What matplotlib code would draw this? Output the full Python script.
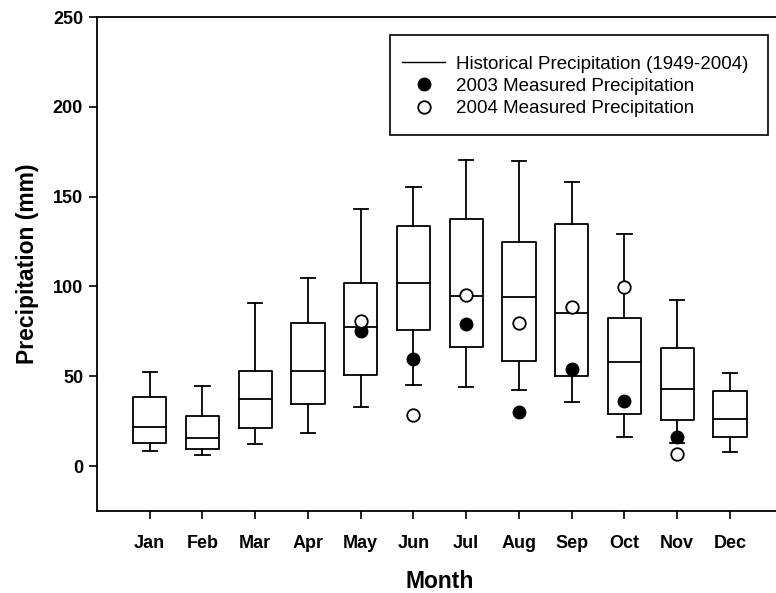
import matplotlib
matplotlib.use("Agg")
import matplotlib.pyplot as plt
from matplotlib.lines import Line2D
from matplotlib.patches import Rectangle

plt.rcParams['font.family'] = ['Liberation Sans', 'DejaVu Sans']

months = ['Jan', 'Feb', 'Mar', 'Apr', 'May', 'Jun', 'Jul', 'Aug', 'Sep', 'Oct', 'Nov', 'Dec']
whisker_low = [8.4, 6.1, 12.1, 18.6, 33.0, 44.9, 44.2, 42.3, 35.6, 16.3, 12.6, 8.0]
q1 = [12.6, 9.5, 21.3, 34.5, 50.8, 75.5, 66.1, 58.3, 50.3, 28.8, 25.6, 16.1]
median = [21.9, 15.9, 37.3, 53.1, 77.2, 102.1, 94.9, 94.3, 85.2, 57.7, 43.0, 26.3]
q3 = [38.2, 27.8, 52.7, 79.4, 101.7, 133.8, 137.7, 124.7, 134.7, 82.6, 65.7, 41.8]
whisker_high = [52.5, 44.4, 90.6, 104.7, 143.1, 155.2, 170.4, 169.8, 158.3, 129.0, 92.2, 51.8]

months_2003 = ['May', 'Jun', 'Jul', 'Aug', 'Sep', 'Oct', 'Nov']
precip_2003 = [75.2, 59.6, 79.2, 30.1, 54.0, 36.0, 16.3]
months_2004 = ['May', 'Jun', 'Jul', 'Aug', 'Sep', 'Oct', 'Nov']
precip_2004 = [80.7, 28.4, 95.0, 79.4, 88.5, 99.5, 6.5]

W, H = 776, 593
fig = plt.figure(figsize=(W/100, H/100), dpi=100)
ax = fig.add_axes([97/W, 1 - 511/H, (782.7 - 97)/W, (511 - 17)/H])

positions = list(range(1, len(months) + 1))
stats = []
for i, m in enumerate(months):
    stats.append(dict(label=m, whislo=whisker_low[i], q1=q1[i], med=median[i],
                      q3=q3[i], whishi=whisker_high[i], fliers=[]))

lw = 1.3
ax.bxp(stats, positions=positions, widths=0.63, showfliers=False,
       boxprops=dict(color='black', linewidth=lw),
       medianprops=dict(color='black', linewidth=lw),
       whiskerprops=dict(color='black', linewidth=lw),
       capprops=dict(color='black', linewidth=lw),
       capwidths=0.27)

idx = {m: i + 1 for i, m in enumerate(months)}
ax.plot([idx[m] for m in months_2003], precip_2003, 'o', color='black',
        markersize=9, zorder=5)
ax.plot([idx[m] for m in months_2004], precip_2004, 'o', markerfacecolor='white',
        markeredgecolor='black', markeredgewidth=1.3, markersize=9, zorder=6)

ax.set_xlim(0, 13)
ax.set_ylim(-25, 250)
ax.set_yticks([0, 50, 100, 150, 200, 250])
ax.set_xticks(positions)
ax.set_xticklabels(months)
for sp in ax.spines.values():
    sp.set_linewidth(1.3)
ax.tick_params(axis='both', direction='out', length=6, width=1.2, labelsize=13, pad=4)
ax.tick_params(axis='x', pad=11)
for lab in ax.get_xticklabels() + ax.get_yticklabels():
    lab.set_fontweight('bold')

ax.set_xlabel('Month', fontsize=16.5, fontweight='bold', labelpad=13)
ax.set_ylabel('Precipitation (mm)', fontsize=16.5, fontweight='bold', labelpad=10)

# legend frame
frame = Rectangle((390/W, 1 - 135/H), (768 - 390)/W, (135 - 35)/H,
                  transform=fig.transFigure, facecolor='white', edgecolor='black',
                  linewidth=1.2, zorder=9)
fig.add_artist(frame)

handles = [
    Line2D([0], [0], color='black', linewidth=1.0),
    Line2D([0], [0], marker='o', linestyle='none', color='black', markersize=9),
    Line2D([0], [0], marker='o', linestyle='none', markerfacecolor='white',
           markeredgecolor='black', markeredgewidth=1.3, markersize=9),
]
labels = ['Historical Precipitation (1949-2004)', '2003 Measured Precipitation',
          '2004 Measured Precipitation']
leg = fig.legend(handles, labels, loc='upper left',
                 bbox_to_anchor=(402/W, 1 - 55.5/H), bbox_transform=fig.transFigure,
                 borderaxespad=0, fontsize=13.5, frameon=False,
                 handlelength=2.3, handletextpad=0.6,
                 labelspacing=0.28, borderpad=0)
leg.set_zorder(10)

fig.savefig('out.png', dpi=100)
